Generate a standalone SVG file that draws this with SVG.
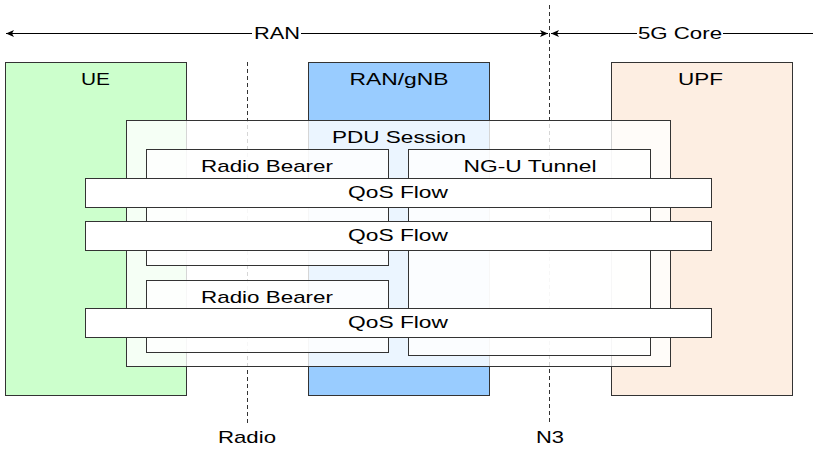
<svg xmlns="http://www.w3.org/2000/svg" width="813" height="450" viewBox="0 0 813 450">
<style>
text{font-family:"Liberation Sans",Arial,sans-serif;font-size:17px;fill:#000;text-anchor:middle}
.box{stroke:#333;stroke-width:1}
.ov{fill:#fff;fill-opacity:0.8;stroke:#333;stroke-width:1}
.qos{fill:#fff;stroke:#333;stroke-width:1}
.dash{stroke:#333;stroke-width:1;stroke-dasharray:4 3;fill:none}
.line{stroke:#000;stroke-width:1;fill:none}
</style>
<defs>
<marker id="ah" markerWidth="10" markerHeight="10" refX="9" refY="5" orient="auto-start-reverse" markerUnits="userSpaceOnUse">
<path d="M1,1.5 L9,5 L1,8.5 L3,5 Z" fill="#000"/>
</marker>
</defs>
<rect width="813" height="450" fill="#fff"/>
<g id="ue"><rect class="box" x="5.5" y="62.5" width="181" height="333" fill="#ccffcc"/><text x="95.5" y="85" textLength="29" lengthAdjust="spacingAndGlyphs">UE</text></g>
<g id="gnb"><rect class="box" x="308.5" y="62.5" width="181" height="333" fill="#99ccff"/><text x="399" y="85" textLength="99" lengthAdjust="spacingAndGlyphs">RAN/gNB</text></g>
<g id="upf"><rect class="box" x="611.5" y="62.5" width="181" height="333" fill="#fdeee2"/><text x="700.5" y="85" textLength="45" lengthAdjust="spacingAndGlyphs">UPF</text></g>
<g id="connectors">
<line class="dash" x1="247.5" y1="62" x2="247.5" y2="425"/>
<line class="dash" x1="549.5" y1="5" x2="549.5" y2="425"/>
<line class="line" x1="6" y1="33.5" x2="252" y2="33.5" marker-start="url(#ah)"/>
<line class="line" x1="301" y1="33.5" x2="548" y2="33.5" marker-end="url(#ah)"/>
<line class="line" x1="551" y1="33.5" x2="637" y2="33.5" marker-start="url(#ah)"/>
<line class="line" x1="723" y1="33.5" x2="813" y2="33.5"/>
</g>
<g id="ran-label"><text x="277" y="39" textLength="46" lengthAdjust="spacingAndGlyphs">RAN</text></g>
<g id="core-label"><text x="680" y="39" textLength="84" lengthAdjust="spacingAndGlyphs">5G Core</text></g>
<g id="radio-label"><text x="247" y="443" textLength="58" lengthAdjust="spacingAndGlyphs">Radio</text></g>
<g id="n3-label"><text x="550" y="443" textLength="28" lengthAdjust="spacingAndGlyphs">N3</text></g>
<g id="pdu"><rect class="ov" x="126.5" y="120.5" width="544" height="246"/><text x="399" y="143" textLength="134" lengthAdjust="spacingAndGlyphs">PDU Session</text></g>
<g id="rb1"><rect class="ov" x="146.5" y="149.5" width="242" height="116"/><text x="267" y="172" textLength="132" lengthAdjust="spacingAndGlyphs">Radio Bearer</text></g>
<g id="ngu"><rect class="ov" x="408.5" y="149.5" width="242" height="206"/><text x="530" y="172" textLength="133" lengthAdjust="spacingAndGlyphs">NG-U Tunnel</text></g>
<g id="rb2"><rect class="ov" x="146.5" y="280.5" width="242" height="72"/><text x="267" y="303" textLength="132" lengthAdjust="spacingAndGlyphs">Radio Bearer</text></g>
<g id="qos1"><rect class="qos" x="85.5" y="178.5" width="626" height="29"/><text x="398" y="198" textLength="100" lengthAdjust="spacingAndGlyphs">QoS Flow</text></g>
<g id="qos2"><rect class="qos" x="85.5" y="221.5" width="626" height="29"/><text x="398" y="241" textLength="100" lengthAdjust="spacingAndGlyphs">QoS Flow</text></g>
<g id="qos3"><rect class="qos" x="85.5" y="308.5" width="626" height="29"/><text x="398" y="328" textLength="100" lengthAdjust="spacingAndGlyphs">QoS Flow</text></g>
</svg>
